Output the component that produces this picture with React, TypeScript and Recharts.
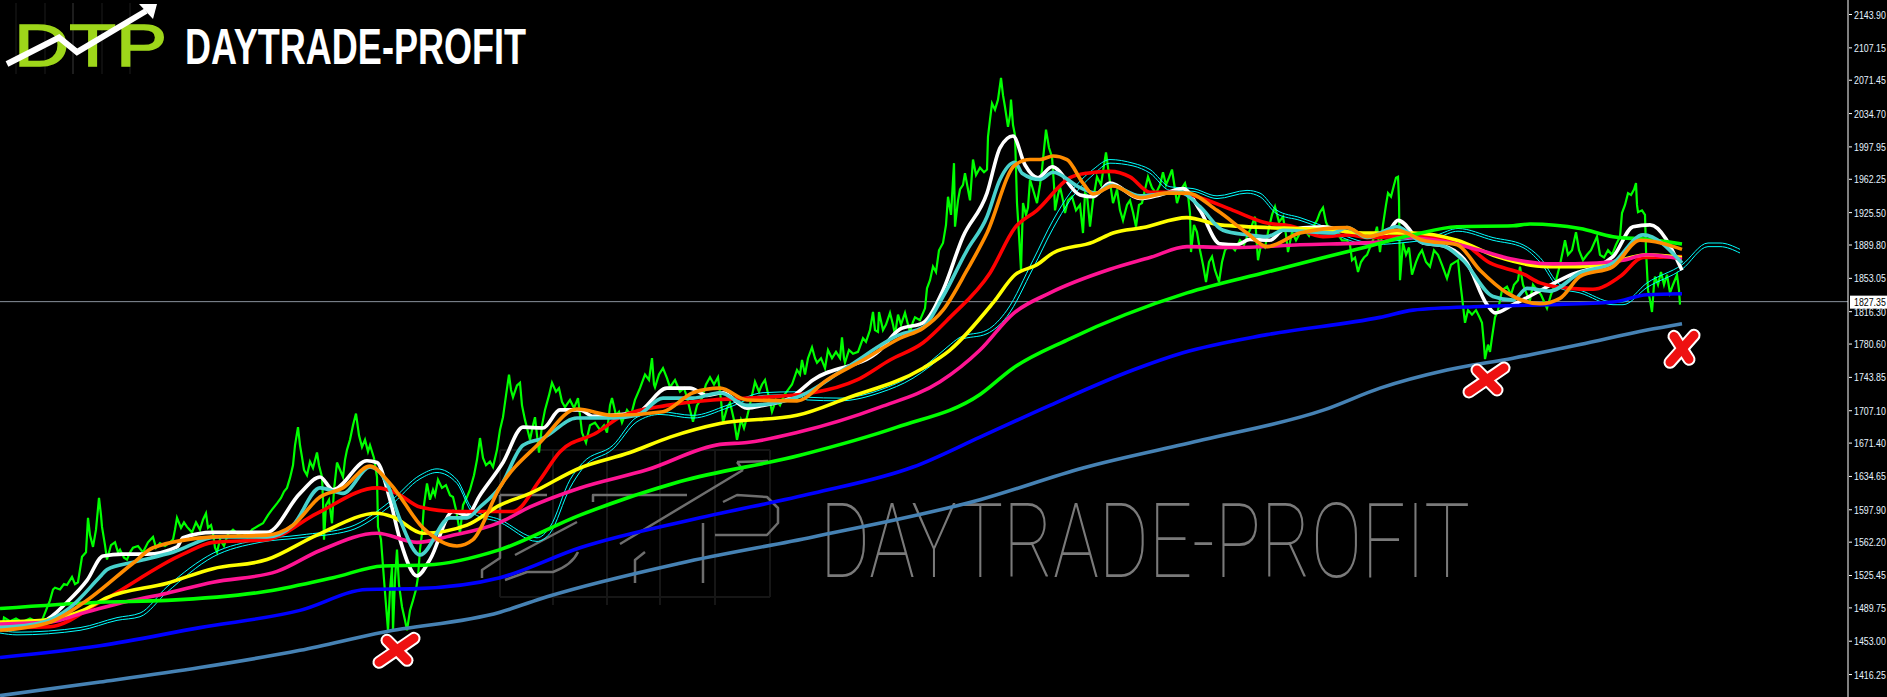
import React from "react";
import { ComposedChart, Line, XAxis, YAxis, ReferenceLine, ReferenceDot } from "recharts";

type Pt = [number, number];

const yTicks = [2143.9, 2107.15, 2071.45, 2034.7, 1997.95, 1962.25, 1925.5, 1889.8, 1853.05, 1827.35, 1816.3, 1780.6, 1743.85, 1707.1, 1671.4, 1634.65, 1597.9, 1562.2, 1525.45, 1489.75, 1453.0, 1416.25];
const lastPrice = 1827.35;
const markX = [397, 1487, 1682];
const markP = [1443, 1741, 1777];

const priceLine: Pt[] = [[0,1474],[2,1465],[4,1479],[10,1475],[16,1478],[22,1474],[30,1478],[36,1475],[42,1476],[46,1487],[50,1498],[53,1510],[55,1512],[60,1510],[64,1516],[67,1515],[72,1524],[75,1516],[78,1518],[82,1546],[86,1551],[88,1589],[90,1570],[93,1557],[96,1576],[99,1611],[101,1592],[102,1579],[105,1559],[107,1543],[111,1559],[115,1562],[118,1551],[120,1554],[124,1545],[127,1543],[130,1551],[133,1556],[138,1558],[143,1551],[148,1562],[153,1568],[156,1556],[160,1561],[165,1558],[170,1562],[173,1565],[175,1576],[177,1589],[181,1578],[184,1584],[187,1579],[192,1573],[196,1584],[200,1576],[203,1587],[206,1594],[208,1578],[211,1581],[213,1572],[215,1556],[217,1551],[220,1565],[224,1558],[228,1571],[233,1576],[238,1571],[243,1573],[247,1568],[252,1576],[258,1580],[263,1583],[268,1592],[272,1598],[277,1605],[281,1611],[284,1618],[287,1622],[290,1633],[293,1647],[295,1669],[298,1689],[300,1669],[302,1656],[304,1642],[307,1636],[310,1651],[313,1644],[317,1661],[319,1647],[322,1634],[323,1609],[324,1565],[326,1603],[329,1609],[332,1583],[334,1620],[337,1650],[340,1642],[343,1634],[345,1653],[347,1664],[350,1675],[353,1691],[356,1704],[359,1680],[362,1667],[365,1675],[368,1662],[370,1669],[374,1655],[377,1634],[378,1579],[381,1565],[384,1521],[388,1465],[390,1510],[392,1535],[393,1465],[395,1521],[397,1554],[399,1515],[402,1491],[405,1476],[407,1465],[410,1487],[413,1498],[416,1510],[418,1524],[420,1554],[422,1572],[424,1603],[427,1627],[430,1609],[433,1620],[435,1614],[438,1631],[442,1622],[446,1625],[450,1614],[453,1612],[456,1598],[460,1572],[463,1603],[467,1612],[470,1620],[474,1636],[477,1653],[480,1677],[483,1655],[486,1647],[490,1651],[493,1645],[497,1664],[500,1686],[503,1700],[506,1724],[509,1747],[511,1730],[513,1722],[517,1735],[520,1738],[522,1713],[525,1697],[528,1684],[530,1675],[533,1691],[535,1700],[537,1680],[539,1661],[542,1691],[545,1708],[549,1724],[552,1738],[556,1728],[559,1732],[562,1717],[565,1711],[570,1719],[574,1710],[578,1721],[580,1702],[582,1683],[586,1672],[590,1691],[595,1694],[600,1686],[604,1691],[607,1683],[610,1713],[612,1721],[616,1702],[619,1706],[622,1694],[627,1708],[631,1702],[635,1719],[640,1732],[645,1747],[649,1741],[652,1765],[654,1736],[655,1733],[659,1747],[663,1754],[667,1743],[670,1733],[675,1741],[680,1728],[684,1732],[687,1722],[690,1708],[693,1695],[697,1713],[702,1721],[706,1736],[710,1744],[714,1736],[718,1744],[721,1719],[723,1694],[727,1710],[730,1716],[734,1697],[737,1675],[741,1697],[744,1688],[747,1700],[751,1719],[755,1739],[759,1728],[762,1736],[765,1741],[769,1721],[772,1706],[776,1719],[780,1713],[784,1724],[788,1730],[792,1736],[797,1752],[800,1747],[802,1763],[805,1747],[808,1765],[812,1777],[815,1765],[817,1760],[821,1765],[825,1754],[828,1774],[832,1765],[836,1772],[840,1765],[842,1788],[844,1765],[845,1760],[849,1774],[853,1770],[858,1772],[863,1787],[866,1783],[870,1796],[873,1816],[875,1796],[878,1794],[879,1816],[883,1796],[886,1802],[890,1815],[893,1802],[895,1791],[898,1813],[901,1802],[905,1815],[908,1802],[910,1794],[913,1805],[915,1810],[920,1807],[925,1820],[927,1842],[930,1851],[933,1866],[936,1860],[939,1884],[943,1892],[946,1912],[948,1943],[951,1923],[954,1980],[955,1910],[958,1939],[960,1951],[963,1956],[965,1969],[968,1951],[970,1939],[973,1984],[976,1967],[980,1975],[984,1970],[987,1973],[988,2009],[990,2028],[992,2046],[995,2039],[998,2050],[1001,2074],[1003,2055],[1005,2042],[1008,2020],[1010,2033],[1011,2050],[1013,2022],[1015,2011],[1017,1936],[1019,1901],[1021,1862],[1023,1936],[1026,1923],[1028,1931],[1030,1962],[1033,1951],[1037,1936],[1040,1956],[1042,1973],[1044,1995],[1046,2017],[1049,1997],[1052,1987],[1054,1956],[1055,1928],[1058,1945],[1060,1954],[1063,1939],[1065,1925],[1068,1939],[1072,1943],[1076,1928],[1080,1934],[1083,1903],[1085,1947],[1087,1945],[1090,1910],[1093,1939],[1097,1965],[1101,1956],[1104,1978],[1106,1992],[1109,1967],[1113,1936],[1117,1951],[1120,1928],[1123,1917],[1127,1934],[1130,1939],[1133,1926],[1136,1910],[1139,1934],[1142,1936],[1145,1951],[1148,1965],[1152,1953],[1156,1947],[1160,1956],[1163,1970],[1166,1956],[1169,1964],[1172,1973],[1175,1951],[1177,1936],[1181,1951],[1185,1958],[1188,1945],[1190,1925],[1191,1882],[1194,1912],[1197,1904],[1200,1884],[1203,1868],[1206,1849],[1209,1871],[1212,1877],[1215,1862],[1219,1849],[1222,1871],[1225,1884],[1230,1890],[1235,1884],[1240,1895],[1244,1890],[1247,1899],[1251,1909],[1255,1921],[1258,1873],[1261,1890],[1265,1887],[1269,1909],[1272,1923],[1275,1932],[1279,1915],[1283,1921],[1286,1901],[1288,1882],[1292,1904],[1296,1895],[1300,1903],[1305,1906],[1309,1900],[1313,1910],[1317,1917],[1320,1926],[1323,1931],[1326,1915],[1328,1910],[1332,1909],[1337,1903],[1342,1895],[1347,1895],[1350,1890],[1352,1873],[1355,1876],[1358,1860],[1361,1871],[1364,1876],[1367,1879],[1371,1890],[1374,1898],[1377,1910],[1380,1882],[1383,1912],[1386,1934],[1388,1947],[1391,1943],[1394,1956],[1396,1964],[1398,1965],[1399,1939],[1400,1851],[1403,1892],[1406,1879],[1409,1887],[1412,1857],[1416,1871],[1419,1879],[1422,1884],[1426,1871],[1430,1866],[1434,1884],[1438,1879],[1442,1868],[1447,1853],[1451,1868],[1455,1871],[1458,1873],[1460,1851],[1462,1833],[1465,1804],[1468,1818],[1472,1813],[1476,1818],[1480,1809],[1482,1804],[1484,1780],[1485,1764],[1488,1780],[1490,1772],[1492,1788],[1495,1810],[1498,1818],[1502,1840],[1507,1844],[1511,1835],[1514,1846],[1518,1851],[1520,1866],[1523,1846],[1527,1835],[1530,1829],[1533,1846],[1537,1840],[1541,1835],[1547,1820],[1551,1835],[1555,1846],[1557,1855],[1560,1868],[1563,1884],[1565,1895],[1568,1879],[1572,1884],[1576,1904],[1579,1884],[1583,1873],[1587,1879],[1591,1884],[1597,1899],[1600,1879],[1604,1876],[1608,1884],[1612,1879],[1616,1890],[1620,1899],[1622,1925],[1625,1934],[1628,1947],[1631,1945],[1634,1951],[1636,1958],[1637,1934],[1638,1926],[1642,1928],[1645,1923],[1646,1884],[1648,1840],[1650,1829],[1652,1816],[1654,1846],[1655,1855],[1658,1846],[1661,1860],[1664,1846],[1667,1857],[1670,1837],[1673,1846],[1677,1857],[1679,1840],[1680,1824]];

const steelMA: Pt[] = [[0,1393],[100,1408],[200,1424],[300,1443],[383,1463],[500,1485],[547,1502],[680,1539],[813,1568],[980,1609],[1083,1644],[1203,1675],[1324,1708],[1380,1732],[1447,1752],[1513,1765],[1580,1780],[1647,1796],[1682,1803]];
const blueMA: Pt[] = [[0,1435],[100,1448],[200,1468],[300,1487],[367,1510],[417,1511],[500,1523],[580,1556],[700,1589],[813,1616],[913,1645],[980,1678],[1050,1713],[1133,1752],[1183,1771],[1267,1791],[1380,1810],[1413,1818],[1480,1822],[1547,1824],[1613,1827],[1647,1835],[1682,1836]];
const limeMA: Pt[] = [[0,1489],[100,1496],[167,1498],[267,1508],[333,1523],[383,1536],[427,1537],[500,1554],[580,1592],[680,1629],[800,1658],[897,1689],[980,1725],[1013,1754],[1067,1785],[1187,1837],[1267,1860],[1367,1888],[1413,1901],[1457,1910],[1513,1911],[1530,1913],[1580,1908],[1613,1899],[1647,1896],[1682,1891]];
const pinkMA: Pt[] = [[0,1472],[50,1474],[83,1484],[117,1494],[167,1506],[213,1518],[277,1530],[320,1553],[377,1572],[417,1562],[450,1569],[500,1584],[530,1601],[580,1622],[647,1642],[720,1670],[747,1672],[797,1683],[880,1711],[940,1739],[980,1774],[1013,1814],[1050,1837],[1110,1863],[1150,1876],[1187,1888],[1233,1887],[1300,1890],[1380,1893],[1403,1898],[1447,1893],[1480,1884],[1513,1874],[1553,1869],[1597,1870],[1623,1873],[1647,1879],[1682,1874]];
const yellowMA: Pt[] = [[0,1474],[43,1476],[83,1487],[107,1501],[167,1517],[213,1533],[267,1543],[317,1570],[377,1594],[393,1590],[423,1572],[467,1581],[500,1603],[530,1616],[580,1644],[630,1661],[670,1678],[720,1693],[797,1702],[847,1721],[923,1754],[950,1774],[993,1826],[1015,1857],[1037,1868],[1053,1881],[1093,1893],[1113,1903],[1143,1909],[1187,1920],[1220,1912],[1333,1906],[1367,1903],[1413,1903],[1457,1895],[1497,1877],[1547,1866],[1580,1866],[1613,1871],[1647,1879],[1682,1876]];
const redMA: Pt[] = [[0,1468],[50,1469],[100,1496],[183,1549],[213,1562],[267,1565],[317,1594],[377,1622],[397,1616],[420,1601],[457,1596],[513,1596],[540,1631],[560,1662],[597,1683],[620,1700],[667,1713],[713,1719],[747,1721],[813,1727],[857,1741],[890,1763],[923,1782],[950,1810],[990,1859],[1015,1909],[1037,1928],[1070,1964],[1087,1969],[1110,1971],[1130,1965],[1150,1948],[1173,1948],[1200,1942],[1233,1928],[1267,1914],[1290,1911],[1323,1899],[1350,1901],[1367,1898],[1413,1900],[1460,1893],[1490,1870],[1523,1858],[1540,1848],[1570,1842],[1593,1841],[1620,1855],[1643,1876],[1682,1877]];
const orangeMA: Pt[] = [[0,1465],[50,1474],[83,1495],[133,1539],[153,1556],[213,1568],[267,1570],[293,1581],[320,1612],[343,1622],[370,1646],[390,1627],[423,1578],[457,1558],[473,1565],[500,1623],[540,1672],[577,1709],[613,1702],[663,1706],[693,1727],[720,1732],[747,1719],[797,1718],[827,1741],[863,1763],[900,1787],[923,1798],[943,1818],[967,1862],[987,1903],[1015,1978],[1030,1984],[1040,1984],[1053,1988],[1067,1984],[1083,1958],[1093,1946],[1113,1955],[1140,1942],[1167,1947],[1187,1947],[1217,1928],[1247,1903],[1267,1888],[1300,1903],[1347,1909],[1367,1899],[1397,1906],[1423,1895],[1457,1890],[1480,1862],[1507,1837],[1540,1825],[1560,1831],[1580,1855],[1613,1866],[1640,1895],[1682,1885]];
const turquoiseMA: Pt[] = [[0,1468],[43,1474],[70,1490],[100,1524],[107,1532],[133,1540],[173,1551],[217,1568],[267,1568],[293,1581],[320,1622],[343,1616],[370,1645],[387,1627],[400,1587],[420,1548],[450,1589],[467,1589],[480,1601],[500,1623],[523,1669],[543,1677],[577,1699],[613,1699],[637,1702],[663,1721],[693,1721],[720,1727],[747,1713],[797,1722],[847,1755],[900,1791],[923,1799],[943,1833],[967,1884],[987,1921],[1000,1962],[1015,1981],[1022,1969],[1040,1962],[1053,1970],[1080,1953],[1097,1947],[1110,1956],[1140,1944],[1180,1948],[1200,1932],[1223,1906],[1247,1901],[1267,1899],[1283,1906],[1333,1903],[1347,1909],[1367,1898],[1397,1910],[1423,1892],[1443,1889],[1463,1873],[1493,1833],[1513,1829],[1527,1842],[1550,1839],[1580,1859],[1613,1870],[1643,1901],[1682,1870]];
const whiteMA: Pt[] = [[0,1469],[43,1475],[67,1496],[87,1520],[103,1547],[123,1549],[147,1549],[177,1557],[183,1567],[213,1573],[267,1573],[300,1616],[320,1634],[333,1620],[367,1652],[377,1650],[390,1609],[400,1565],[417,1525],[430,1543],[453,1596],[467,1592],[480,1614],[503,1650],[523,1689],[543,1688],[560,1708],[580,1708],[593,1701],[637,1705],[667,1732],[690,1732],[707,1724],[723,1727],[747,1710],[763,1713],[790,1721],[813,1741],[880,1774],[900,1797],[923,1804],[943,1840],[963,1899],[987,1947],[1000,1997],[1013,2010],[1025,1978],[1038,1964],[1052,1976],[1080,1945],[1093,1943],[1110,1958],[1140,1941],[1160,1945],[1183,1952],[1200,1928],[1220,1891],[1237,1890],[1250,1896],[1270,1895],[1283,1906],[1323,1910],[1367,1899],[1387,1903],[1398,1917],[1423,1892],[1443,1889],[1467,1870],[1487,1824],[1495,1815],[1513,1824],[1567,1855],[1613,1877],[1633,1910],[1650,1912],[1682,1862]];
const cyanUpper: Pt[] = [[0,1465],[17,1463],[80,1468],[117,1479],[140,1484],[167,1513],[213,1550],[260,1565],[300,1570],[350,1579],[390,1607],[420,1636],[437,1643],[457,1631],[473,1598],[500,1587],[537,1567],[550,1579],[570,1631],[583,1650],[613,1669],[637,1700],[660,1706],[693,1702],[727,1713],[763,1727],[797,1728],[807,1722],[840,1721],[880,1730],[913,1747],[930,1761],[947,1777],[960,1788],[987,1796],[1007,1818],[1033,1873],[1053,1917],[1070,1947],[1093,1973],[1110,1984],[1133,1980],[1150,1973],[1170,1954],[1193,1952],[1217,1944],[1247,1950],[1260,1947],[1277,1928],[1300,1920],[1320,1912],[1347,1899],[1367,1893],[1400,1895],[1437,1901],[1458,1908],[1493,1898],[1523,1890],[1540,1876],[1560,1846],[1580,1840],[1613,1827],[1623,1827],[1647,1848],[1682,1868],[1708,1892],[1720,1892],[1740,1885]];
const cyanLower: Pt[] = [[0,1462],[17,1460],[80,1465],[117,1476],[140,1480],[167,1507],[213,1546],[260,1562],[300,1567],[350,1575],[390,1602],[420,1632],[437,1639],[457,1627],[473,1594],[500,1584],[537,1563],[550,1572],[570,1622],[583,1644],[613,1665],[637,1695],[660,1703],[693,1699],[727,1710],[763,1724],[797,1725],[807,1719],[840,1718],[880,1727],[913,1743],[930,1756],[947,1772],[960,1785],[987,1792],[1007,1811],[1033,1864],[1053,1908],[1070,1939],[1093,1967],[1110,1980],[1133,1977],[1150,1969],[1170,1950],[1193,1949],[1217,1941],[1247,1947],[1260,1943],[1277,1924],[1300,1917],[1320,1909],[1347,1896],[1367,1890],[1400,1892],[1437,1898],[1458,1905],[1493,1895],[1523,1887],[1540,1871],[1560,1842],[1580,1837],[1613,1824],[1623,1824],[1647,1843],[1682,1863],[1708,1888],[1720,1888],[1740,1881]];

const rows = (a: Pt[]) => a.map(([x, p]) => ({ x, p }));
const W = 1887;
const H = 697;

const series: { name: string; data: Pt[]; color: string; width: number; curve: "linear" | "monotone" }[] = [
  { name: "price", data: priceLine, color: "#00ff00", width: 2.2, curve: "linear" },
  { name: "cyanU", data: cyanUpper, color: "#00ffff", width: 1, curve: "monotone" },
  { name: "cyanL", data: cyanLower, color: "#00ffff", width: 1, curve: "monotone" },
  { name: "white", data: whiteMA, color: "#ffffff", width: 3.6, curve: "monotone" },
  { name: "red", data: redMA, color: "#ff0000", width: 3.6, curve: "monotone" },
  { name: "yellow", data: yellowMA, color: "#ffff00", width: 3.6, curve: "monotone" },
  { name: "pink", data: pinkMA, color: "#ff1493", width: 3.6, curve: "monotone" },
  { name: "lime", data: limeMA, color: "#00ff00", width: 3.6, curve: "monotone" },
  { name: "blue", data: blueMA, color: "#0000ff", width: 3.6, curve: "monotone" },
  { name: "steel", data: steelMA, color: "#4682b4", width: 3.6, curve: "monotone" },
  { name: "turquoise", data: turquoiseMA, color: "#48d1cc", width: 3.6, curve: "monotone" },
  { name: "orange", data: orangeMA, color: "#ff8c00", width: 3.6, curve: "monotone" },
];

const PriceTick = (props: any) => {
  const { y, payload } = props;
  const isLast = payload.value === lastPrice;
  return (
    <g>
      {isLast ? (
        <rect x={1850} y={y - 6} width={37} height={13} fill="#ffffff" />
      ) : (
        <line x1={1849} x2={1852} y1={y} y2={y} stroke="#ffffff" />
      )}
      <text transform={`translate(1854,${y + 4}) scale(0.8,1)`} fontFamily="'Liberation Sans', sans-serif" fontSize={11} fill={isLast ? "#000000" : "#e6f4ff"}>
        {payload.value.toFixed(2)}
      </text>
    </g>
  );
};

const crossArms: number[][][] = [
  [[-18, 12, 17, -12], [-10, -10, 10, 10]],
  [[-18, 12, 17, -12], [-10, -10, 10, 10]],
  [[-12, 15, 12, -12], [-8, -11, 7, 12]],
];

const Cross = (idx: number) => (props: any) => {
  const { cx, cy } = props;
  return (
    <g transform={`translate(${cx},${cy})`} strokeLinecap="round">
      {crossArms[idx].map((a, i) => (
        <line key={i} x1={a[0]} y1={a[1]} x2={a[2]} y2={a[3]} stroke="#ffffff" strokeWidth={13} />
      ))}
      {crossArms[idx].map((a, i) => (
        <line key={i} x1={a[0]} y1={a[1]} x2={a[2]} y2={a[3]} stroke="#ee1111" strokeWidth={9} />
      ))}
    </g>
  );
};

const Watermark = () => (
  <svg width={W} height={H} style={{ position: "absolute", left: 0, top: 0 }}>
    <g stroke="#161616" strokeWidth={2} fill="none">
      <path d="M500 450H770M500 597H770M553 450V605M607 450V605M660 450V605M715 450V605M770 450V597M500 450V597" />
    </g>
    <g stroke="#6e6e6e" strokeWidth={2.5} fill="none" strokeLinejoin="round">
      <path d="M500 495H547M500 495V558L482 570V578M505 580L527 572H553Q572 565 578 552" />
      <path d="M593 502V495H687M635 583V560L645 552" />
      <path d="M703 583V523M715 535H767L778 523V508L767 497L737 495L723 502" />
      <path d="M515 555L577 522M620 544L743 470M737 462L768 461M737 462L743 470" />
    </g>
    <text x={820} y={577} fontFamily="Roboto, Lato, sans-serif" fontWeight={100} fontSize={104} fill="#7a7a7a" textLength={650} lengthAdjust="spacingAndGlyphs">
      DAYTRADE-PROFIT
    </text>
  </svg>
);

const Logo = () => (
  <svg width={560} height={80} style={{ position: "absolute", left: 0, top: 0 }}>
    <path d="M16 3V74M45 3V74M102 3V74M130 3V74" stroke="#1c1c1c" fill="none" />
    <path d="M73 3V74" stroke="#3a3a3a" fill="none" />
    <text x={14} y={66} fontFamily="'Liberation Sans', sans-serif" fontSize={60} fill="#9ed61a" stroke="#9ed61a" strokeWidth={1.5} textLength={153} lengthAdjust="spacingAndGlyphs">
      DTP
    </text>
    <path d="M7 64L59 37.5L77 52L146 11" stroke="#ffffff" strokeWidth={6} fill="none" />
    <path d="M139 4H157L153 19Z" fill="#ffffff" />
    <text x={185} y={64} fontFamily="'Liberation Sans', sans-serif" fontWeight={700} fontSize={50} fill="#ffffff" textLength={341} lengthAdjust="spacingAndGlyphs">
      DAYTRADE-PROFIT
    </text>
  </svg>
);

export default function App() {
  return (
    <div style={{ position: "absolute", left: 0, top: 0, width: W, height: H, background: "#000000", overflow: "hidden" }}>
      <Watermark />
      <div style={{ position: "absolute", left: 0, top: 0 }}>
        <ComposedChart width={W} height={H} margin={{ top: 0, right: 0, bottom: 0, left: 0 }}>
          <XAxis type="number" dataKey="x" domain={[0, 1848]} hide allowDataOverflow />
          <YAxis
            type="number"
            orientation="right"
            width={39}
            domain={[1391.5, 2159.9]}
            ticks={yTicks}
            interval={0}
            tick={<PriceTick />}
            tickLine={false}
            axisLine={{ stroke: "#ffffff", strokeWidth: 1 }}
            allowDataOverflow
          />
          <ReferenceLine y={lastPrice} stroke="#8a929c" strokeWidth={1} />
          {series.map((s) => (
            <Line
              key={s.name}
              data={rows(s.data)}
              dataKey="p"
              type={s.curve}
              stroke={s.color}
              strokeWidth={s.width}
              dot={false}
              activeDot={false}
              legendType="none"
              isAnimationActive={false}
            />
          ))}
          {markX.map((x, i) => (
            <ReferenceDot key={x} x={x} y={markP[i]} r={1} shape={Cross(i)} />
          ))}
        </ComposedChart>
      </div>
      <Logo />
    </div>
  );
}
